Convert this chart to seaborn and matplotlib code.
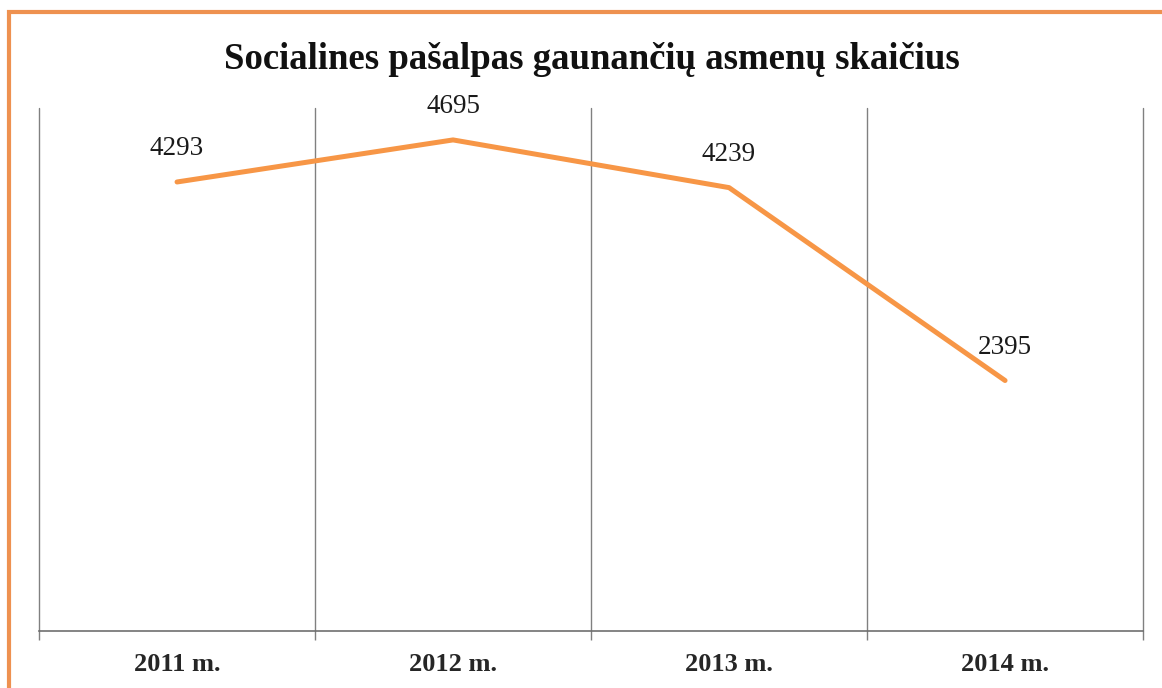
import seaborn as sns
import pandas as pd
import matplotlib.pyplot as plt
from matplotlib.patches import Rectangle

years = ["2011 m.", "2012 m.", "2013 m.", "2014 m."]
counts = [4293, 4695, 4239, 2395]

df = pd.DataFrame({"year": years, "count": counts})

sns.set_theme(style="white")
plt.rcParams["font.family"] = ["Liberation Serif", "DejaVu Serif"]

fig = plt.figure(figsize=(11.62, 6.88), dpi=100)
ax = fig.add_axes([0.0336, 0.0828, 0.9501, 0.7602])

# orange frame, cut off at right and bottom like the screenshot
frame = Rectangle((9 / 1162, -0.1), 1.2, 1 - 12 / 688 + 0.1, transform=fig.transFigure,
                  fill=False, edgecolor="#ee9150", linewidth=3, zorder=0)
fig.patches.append(frame)

sns.lineplot(ax=ax, data=df, x="year", y="count", color="#f79646", linewidth=3.6, sort=False)

for i, v in enumerate(counts):
    ax.annotate(str(v), (i, v), xytext=(0, 24), textcoords="offset points",
                ha="center", va="center", fontsize=19.5, color="#1a1a1a")

ax.set_xlim(-0.5, 3.5)
ax.set_ylim(0, 5000)
ax.set_yticks([])
ax.set_xticks(range(4))
ax.set_xticklabels(years, fontsize=19, fontweight="bold")
ax.set_xticks([-0.5, 0.5, 1.5, 2.5, 3.5], minor=True)
ax.tick_params(axis="x", which="major", length=0, pad=16)
ax.tick_params(axis="x", which="minor", length=6.5, width=1, color="#7f7f7f", bottom=True)
ax.grid(False)
for xb in [-0.5, 0.5, 1.5, 2.5, 3.5]:
    ax.axvline(xb, color="#808080", linewidth=1, zorder=0, clip_on=False)
ax.set_xlabel("")
ax.set_ylabel("")
for s in ["top", "left", "right"]:
    ax.spines[s].set_visible(False)
ax.spines["bottom"].set_color("#6f6f6f")
ax.spines["bottom"].set_linewidth(1.2)

fig.text(0.509, 0.914, "Socialines pašalpas gaunančių asmenų skaičius",
         ha="center", va="center", fontsize=26.5, fontweight="bold", color="#111111")

fig.savefig("out.png", dpi=100)
